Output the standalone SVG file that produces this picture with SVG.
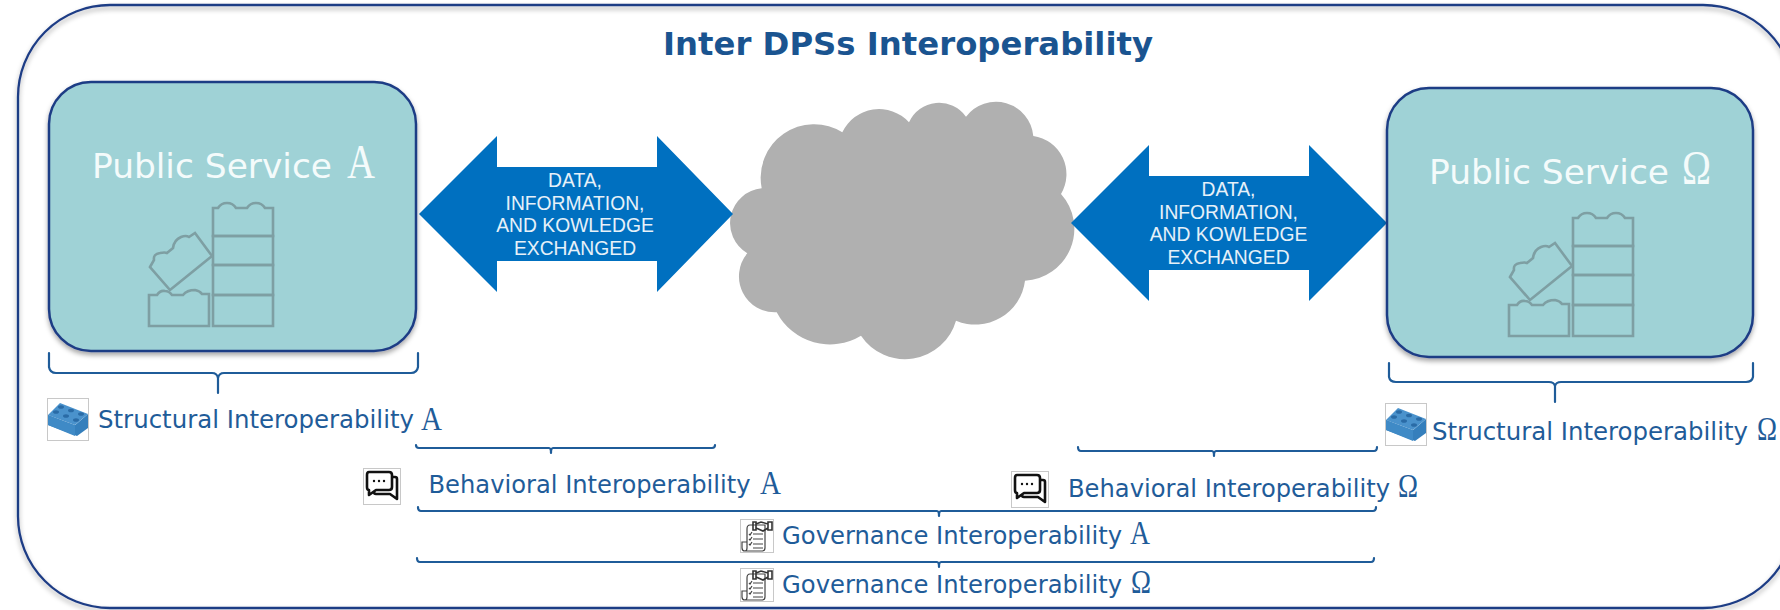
<svg xmlns="http://www.w3.org/2000/svg" width="1780" height="610" viewBox="0 0 1780 610">
<style>
text{font-family:"DejaVu Sans","Liberation Sans",sans-serif}
.lbl{font-size:24px;fill:#1f5c99}
.m{font-family:"Liberation Serif",serif;fill:#1f5c99;font-size:33px}
.ps{font-size:33px;fill:#f4fbfb}
.pm{font-family:"Liberation Serif",serif;fill:#f4fbfb;font-size:48px}
.ar{font-family:"Liberation Sans",sans-serif;font-size:19.3px;fill:#e6f1f9;text-anchor:middle}
.box{fill:#9fd2d6;stroke:#1f3c85;stroke-width:2.5}
.brace{fill:none;stroke:#1f5c99;stroke-width:2.2;stroke-linecap:round}
.arrow{fill:#0070c0}
.lego{fill:none;stroke:#7e9fa3;stroke-width:2.6}
.ib{fill:#fff;stroke:#c8c8c8;stroke-width:1}
.chat{fill:none;stroke:#111;stroke-width:2.6;stroke-linejoin:round}
.doc{fill:none;stroke:#444;stroke-width:1.2}
</style>
<defs>
<filter id="sh" x="-5%" y="-5%" width="110%" height="110%"><feDropShadow dx="0" dy="3" stdDeviation="2.5" flood-color="#000" flood-opacity="0.35"/></filter>
<g id="lego" class="lego">
<path d="M213 236V208H218Q221 203 227 203Q233 203 236 208H247Q250 203 256 203Q262 203 265 208H273V236Z"/>
<path d="M213 236H273V265H213Z"/><path d="M213 265H273V295H213Z"/><path d="M213 295H273V326H213Z"/>
<path d="M149 326V295H157Q160 290 165 291Q169 291 172 295H183Q187 290 195 290Q200 291 202 294H209V326Z"/>
<path d="M150 267L154 260Q153 254 160 253Q165 252 167 253L173 248Q174 240 181 237Q186 235 189 237L195 233L212 256L170 290Z"/>
</g>
<g id="brick">
<rect class="ib" x="0.5" y="0.5" width="41" height="42"/>
<path d="M1 17L1 27L30 38L41 30L41 16L27 28Z" fill="#357fbc"/>
<path d="M1 17L13 5L41 16L28 27Z" fill="#4a92cc"/>
<path d="M1 17L28 27V38L1 27Z" fill="#3f8ac6"/>
<g fill="#2a6ba6"><ellipse cx="14" cy="9" rx="3" ry="1.8"/><ellipse cx="24" cy="12.5" rx="3" ry="1.8"/><ellipse cx="34" cy="16" rx="3" ry="1.8"/><ellipse cx="9" cy="14" rx="3" ry="1.8"/><ellipse cx="19" cy="18" rx="3" ry="1.8"/><ellipse cx="29" cy="22" rx="3" ry="1.8"/></g>
</g>
<g id="talk">
<rect class="ib" x="0.5" y="0.5" width="37" height="36"/>
<path class="chat" d="M6 4H26Q29 4 29 7V19Q29 22 26 22H13L6 27V22Q4 22 4 19V7Q4 4 6 4Z"/>
<path class="chat" d="M29 9H32Q34 9 34 11V25V31L27 26H13Q11 26 11 24"/>
<g fill="#111"><circle cx="11" cy="13" r="1.2"/><circle cx="16" cy="13" r="1.2"/><circle cx="21" cy="13" r="1.2"/></g>
</g>
<g id="gov">
<rect class="ib" x="0.5" y="0.5" width="33" height="33"/>
<path class="doc" stroke-width="1.5" d="M10 6H25V29Q25 32 22 32H5Q2 32 2 29V23H7V10Q7 6 10 6ZM7 23V29Q7 32 5 32"/>
<path class="doc" d="M13 15H23M13 20H23M13 25H23M13 29H23M9 15l1 1 2-3M9 20l1 1 2-3M9 25l1 1 2-3"/>
<path d="M13 3H16V11H13ZM28 3H32V11H28ZM16 5L21 3L28 5V9L23 12L16 9Z" fill="none" stroke="#333" stroke-width="1.6"/>
</g>
</defs>

<g id="frame"><rect x="18" y="5" width="1777" height="603" rx="92" fill="none" stroke="#1f3c85" stroke-width="2.3" filter="url(#sh)"/></g>

<g id="title"><text x="908" y="55" font-size="32" font-weight="700" fill="#1a5490" text-anchor="middle" textLength="490" lengthAdjust="spacingAndGlyphs">Inter DPSs Interoperability</text></g>

<g id="cloud"><path fill="#b0b0b0" d="M761.7 188.3A53.5 53.5 0 0 1 842.3 132.3A40.6 40.6 0 0 1 909 122.3A33 33 0 0 1 966 116.7A37.5 37.5 0 0 1 1033.3 136A38.6 38.6 0 0 1 1061 194A52 52 0 0 1 1025 280.7A50 50 0 0 1 956 320.7A53 53 0 0 1 861 335.7A60 60 0 0 1 776.7 312.3A36 36 0 0 1 747.3 253.3A35 35 0 0 1 761.7 188.3Z"/></g>

<g id="connectors">
<path class="arrow" d="M419 214L497 136V167H657V136L733 214L657 292V261H497V292Z"/>
<path class="arrow" d="M1071 223L1149 145V176H1309V145L1387 223L1309 301V270H1149V301Z"/>
<path class="brace" d="M49 353V367Q50 373 56 373H212Q217 373 218 378V393M218 378Q219 373 224 373H411Q417 373 418 367V353"/>
<path class="brace" d="M1389 363V377Q1390 382 1396 382H1549Q1554 382 1555 386V402M1555 386Q1556 382 1561 382H1746Q1752 382 1753 377V363"/>
<path class="brace" d="M416 445Q416 448 419 448H549Q551 448 551 453M551 453Q551 448 553 448H712Q715 448 715 445"/>
<path class="brace" d="M1078 447Q1078 451 1081 451H1212Q1214 451 1214 456M1214 456Q1214 451 1216 451H1374Q1377 451 1377 447"/>
<path class="brace" d="M418 507Q418 511 421 511H937Q939 511 939 516M939 516Q939 511 941 511H1373Q1376 511 1376 507"/>
<path class="brace" d="M417 558Q417 562 420 562H937Q939 562 939 567M939 567Q939 562 941 562H1371Q1374 562 1374 558"/>
</g>

<g id="arrow-label-a"><text class="ar" x="575" y="187">DATA,</text><text class="ar" x="575" y="209.500">INFORMATION,</text><text class="ar" x="575" y="232">AND KOWLEDGE</text><text class="ar" x="575" y="254.500">EXCHANGED</text></g>
<g id="arrow-label-omega"><text class="ar" x="1228.500" y="196">DATA,</text><text class="ar" x="1228.500" y="218.500">INFORMATION,</text><text class="ar" x="1228.500" y="241">AND KOWLEDGE</text><text class="ar" x="1228.500" y="263.500">EXCHANGED</text></g>

<g id="public-service-a">
<rect class="box" x="49" y="82" width="367" height="269" rx="42" filter="url(#sh)"/>
<text class="ps" x="92" y="178" textLength="240" lengthAdjust="spacingAndGlyphs">Public Service</text>
<text class="pm" x="347" y="178" textLength="28" lengthAdjust="spacingAndGlyphs">A</text>
<use href="#lego"/>
</g>
<g id="public-service-omega">
<rect class="box" x="1387" y="88" width="366" height="269" rx="42" filter="url(#sh)"/>
<text class="ps" x="1429" y="184" textLength="240" lengthAdjust="spacingAndGlyphs">Public Service</text>
<text class="pm" x="1682" y="184" textLength="29" lengthAdjust="spacingAndGlyphs">Ω</text>
<use href="#lego" transform="translate(1360 10)"/>
</g>

<g id="structural-a"><use href="#brick" x="47" y="398"/><text class="lbl" x="98" y="428" textLength="316" lengthAdjust="spacingAndGlyphs">Structural Interoperability</text><text class="m" x="421" y="430" textLength="21" lengthAdjust="spacingAndGlyphs">A</text></g>
<g id="structural-omega"><use href="#brick" x="1385" y="403"/><text class="lbl" x="1432" y="440" textLength="316" lengthAdjust="spacingAndGlyphs">Structural Interoperability</text><text class="m" x="1757" y="440" textLength="20" lengthAdjust="spacingAndGlyphs">Ω</text></g>
<g id="behavioral-a"><use href="#talk" x="363" y="468"/><text class="lbl" x="428.500" y="493" textLength="322" lengthAdjust="spacingAndGlyphs">Behavioral Interoperability</text><text class="m" x="760" y="494" textLength="21" lengthAdjust="spacingAndGlyphs">A</text></g>
<g id="behavioral-omega"><use href="#talk" x="1011" y="471"/><text class="lbl" x="1068" y="497" textLength="322" lengthAdjust="spacingAndGlyphs">Behavioral Interoperability</text><text class="m" x="1398" y="497" textLength="20" lengthAdjust="spacingAndGlyphs">Ω</text></g>
<g id="governance-a"><use href="#gov" x="740" y="519"/><text class="lbl" x="782" y="544" textLength="340" lengthAdjust="spacingAndGlyphs">Governance Interoperability</text><text class="m" x="1130" y="544" textLength="20" lengthAdjust="spacingAndGlyphs">A</text></g>
<g id="governance-omega"><use href="#gov" x="740" y="568"/><text class="lbl" x="782" y="593" textLength="340" lengthAdjust="spacingAndGlyphs">Governance Interoperability</text><text class="m" x="1131" y="593" textLength="20" lengthAdjust="spacingAndGlyphs">Ω</text></g>
</svg>
